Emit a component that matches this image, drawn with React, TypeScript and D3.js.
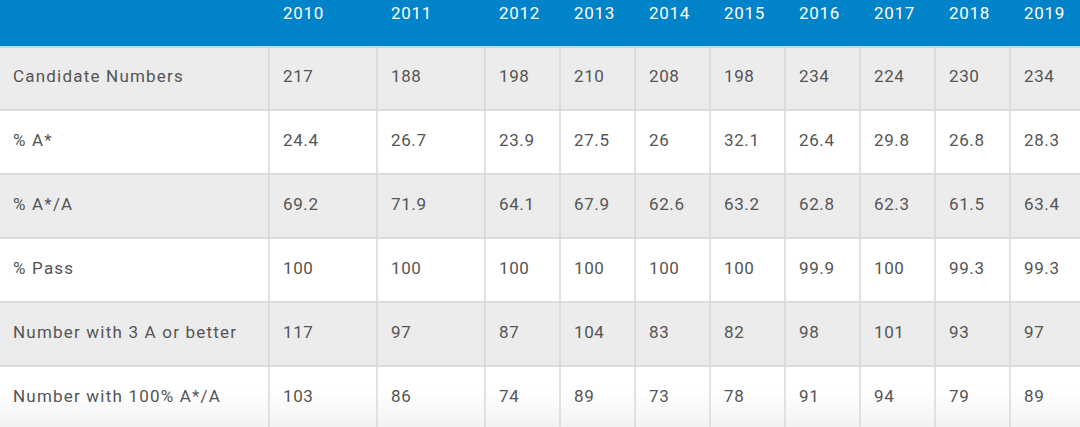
import React from "react";
import * as d3 from "d3";

const years = ["2010", "2011", "2012", "2013", "2014", "2015", "2016", "2017", "2018", "2019"];
const rowLabels = [
  "Candidate Numbers",
  "% A*",
  "% A*/A",
  "% Pass",
  "Number with 3 A or better",
  "Number with 100% A*/A",
];
const candidateNumbers = ["217", "188", "198", "210", "208", "198", "234", "224", "230", "234"];
const pctAStar = ["24.4", "26.7", "23.9", "27.5", "26", "32.1", "26.4", "29.8", "26.8", "28.3"];
const pctAStarA = ["69.2", "71.9", "64.1", "67.9", "62.6", "63.2", "62.8", "62.3", "61.5", "63.4"];
const pctPass = ["100", "100", "100", "100", "100", "100", "99.9", "100", "99.3", "99.3"];
const threeAOrBetter = ["117", "97", "87", "104", "83", "82", "98", "101", "93", "97"];
const fullAStarA = ["103", "86", "74", "89", "73", "78", "91", "94", "79", "89"];
const rows = [candidateNumbers, pctAStar, pctAStarA, pctPass, threeAOrBetter, fullAStarA];

const W = 1080;
const H = 427;
const headerH = 46;
const rowH = 64;
const colWidths = [269, 108, 108, 75, 75, 75, 75, 75, 75, 75, 75];
const colX = [0, ...Array.from(d3.cumsum(colWidths))];
const FONT = "Roboto, 'DejaVu Sans', sans-serif";

export default function App() {
  const y = d3
    .scaleLinear()
    .domain([0, 1])
    .range([headerH, headerH + rowH]);
  return (
    <div style={{ position: "absolute", left: 0, top: 0 }}>
      <svg width={W} height={H} style={{ display: "block" }}>
        <defs>
          <linearGradient id="fade" x1="0" y1="0" x2="0" y2="1">
            <stop offset="0" stopColor="#000" stopOpacity={0} />
            <stop offset="1" stopColor="#000" stopOpacity={0.05} />
          </linearGradient>
        </defs>
        <rect x={0} y={0} width={W} height={H} fill="#fff" />
        <rect x={0} y={0} width={W} height={headerH} fill="#0083c8" />
        {rowLabels.map((_, i) => (
          <rect
            key={"bg" + i}
            x={0}
            y={y(i)}
            width={W}
            height={rowH}
            fill={i % 2 === 0 ? "#ececec" : "#ffffff"}
          />
        ))}
        <rect x={0} y={390} width={W} height={H - 390} fill="url(#fade)" />
        {rowLabels.map((_, i) => (
          <line
            key={"hl" + i}
            x1={0}
            x2={W}
            y1={y(i) + (i === 0 ? 1 : 0)}
            y2={y(i) + (i === 0 ? 1 : 0)}
            stroke={i === 0 ? "#9cc9e6" : "#dcdcdc"}
            strokeWidth={i === 0 ? 1 : 2}
          />
        ))}
        {colX.slice(1, 11).map((x, i) => (
          <line
            key={"vl" + i}
            x1={x}
            x2={x}
            y1={headerH}
            y2={H}
            stroke="#d8d8d8"
            strokeWidth={1.5}
          />
        ))}
        {years.map((yr, j) => (
          <text
            key={"yr" + j}
            x={colX[j + 1] + 14}
            y={19}
            fill="#ffffff"
            fontFamily={FONT}
            fontSize={17}
            letterSpacing={0.7}
          >
            {yr}
          </text>
        ))}
        {rowLabels.map((lab, i) => (
          <g key={"r" + i}>
            <text
              x={13}
              y={y(i) + 36}
              fill="#555555"
              fontFamily={FONT}
              fontSize={17}
              letterSpacing={1.2}
            >
              {lab}
            </text>
            {rows[i].map((v, j) => (
              <text
                key={"v" + j}
                x={colX[j + 1] + 14}
                y={y(i) + 36}
                fill="#555555"
                fontFamily={FONT}
                fontSize={17}
                letterSpacing={0.6}
              >
                {v}
              </text>
            ))}
          </g>
        ))}
      </svg>
    </div>
  );
}
